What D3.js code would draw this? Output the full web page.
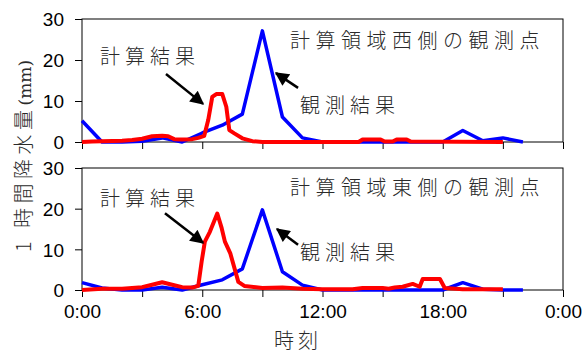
<!DOCTYPE html>
<html>
  <head>
    <meta charset="utf-8">
    <script src="https://cdn.jsdelivr.net/npm/d3@7"></script>
    <style>
      body { margin: 0; background: #fff; }
      .tick text { font-family: "Liberation Sans", Arial, sans-serif; fill: #000; }
      .jp { font-family: "Noto Sans CJK JP", sans-serif; font-weight: 300; fill: #2a2a2a; }
    </style>
  </head>
  <body>
    <svg id="chart" width="588" height="354"></svg>
    <script>
      // hourly observed rainfall (mm/h), 0:00 .. 22:00
      const obsHours = d3.range(0, 23);
      const obsWest = [5.2, 0, 0, 0.2, 1, 0, 2.2, 4.1, 6.8, 27.1, 6.1, 1, 0, 0, 0, 0, 0, 0, 0, 2.8, 0.3, 1, 0];
      const obsEast = [1.8, 0.5, 0, 0, 0.7, 0, 1.3, 2.5, 5.2, 19.7, 4.5, 1.2, 0, 0, 0, 0, 0, 0, 0, 1.8, 0.2, 0, 0];

      // computed rainfall, irregular time steps (hours)
      const calcWestTimes = [0, 0.5, 1, 2, 2.5, 3, 3.5, 4, 4.3, 4.6, 5, 5.5, 5.8, 6.1, 6.3, 6.5, 6.7, 7.0, 7.2, 7.35, 7.6, 8.0, 8.5, 9, 13.8, 14, 14.9, 15.1, 15.5, 15.7, 16.2, 16.4, 21];
      const calcWest = [0, 0.1, 0.2, 0.3, 0.5, 0.8, 1.4, 1.5, 1.4, 0.7, 0.6, 0.7, 1.0, 1.5, 5.4, 11, 11.7, 11.7, 8.6, 2.9, 2.1, 0.9, 0.2, 0, 0, 0.6, 0.6, 0.1, 0.1, 0.6, 0.6, 0.1, 0];
      const calcEastTimes = [0, 1, 2, 2.5, 3, 3.5, 4, 4.5, 5, 5.5, 5.8, 5.97, 6.13, 6.38, 6.75, 6.97, 7.13, 7.4, 7.8, 8.1, 9, 10, 11, 12, 13.5, 14, 15, 15.3, 15.6, 16, 16.5, 16.85, 17.0, 17.86, 18.1, 19, 21];
      const calcEast = [0, 0.3, 0.3, 0.5, 0.7, 1.3, 1.9, 1.3, 0.7, 0.6, 1.0, 7, 11.9, 14.3, 18.8, 15.2, 11.9, 9, 2, 1, 0.5, 0.6, 0.3, 0.2, 0.2, 0.5, 0.5, 0.3, 0.6, 0.8, 1.5, 0.8, 2.7, 2.7, 0.5, 0.2, 0.2];

      const xTickHours = [0, 3, 6, 9, 12, 15, 18, 21, 24];
      const xTickLabels = {0: "0:00", 6: "6:00", 12: "12:00", 18: "18:00", 24: "0:00"};
      const yTicks = [0, 10, 20, 30];

      const panels = [
        {obs: obsWest, calcT: calcWestTimes, calc: calcWest, top: 19, bottom: 142, labels: false,
         title: "計算領域西側の観測点",
         notes: {calc: [0.9, 19], calcArrow: [[4.19, 16.6], [6.04, 9.3]], obs: [10.88, 7.1], obsArrow: [[10.78, 13.2], [9.68, 16.8]], title: [10.38, 22.9]}},
        {obs: obsEast, calcT: calcEastTimes, calc: calcEast, top: 168, bottom: 290, labels: true,
         title: "計算領域東側の観測点",
         notes: {calc: [0.9, 20.7], calcArrow: [[4.14, 18.9], [6.04, 11.6]], obs: [10.88, 7.4], obsArrow: [[10.78, 11.1], [9.73, 15]], title: [10.38, 23.4]}}
      ];

      const svg = d3.select("#chart");
      svg.append("rect").attr("width", 588).attr("height", 354).attr("fill", "#fff");

      svg.append("defs").append("marker")
        .attr("id", "head")
        .attr("viewBox", "0 0 10 10")
        .attr("refX", 9).attr("refY", 5)
        .attr("markerWidth", 6).attr("markerHeight", 5.5)
        .attr("markerUnits", "strokeWidth")
        .attr("orient", "auto")
        .append("path").attr("d", "M0,0 L10,5 L0,10 Z").attr("fill", "#000");

      const x = d3.scaleLinear().domain([0, 24]).range([82, 563]);

      panels.forEach(p => {
        const y = d3.scaleLinear().domain([0, 30]).range([p.bottom, p.top]);
        const g = svg.append("g");

        // frame
        g.append("rect")
          .attr("x", x(0)).attr("y", y(30))
          .attr("width", x(24) - x(0)).attr("height", y(0) - y(30))
          .attr("fill", "none").attr("stroke", "#000").attr("stroke-width", 1);

        g.append("g")
          .attr("transform", `translate(0,${y(0)})`)
          .call(d3.axisBottom(x).tickValues(xTickHours).tickSize(7).tickPadding(8)
            .tickFormat(d => p.labels ? (xTickLabels[d] || "") : ""))
          .call(a => a.select(".domain").remove())
          .call(a => a.selectAll("text").attr("font-size", 19));

        g.append("g")
          .attr("transform", `translate(${x(0)},0)`)
          .call(d3.axisLeft(y).tickValues(yTicks).tickSize(7).tickPadding(11))
          .call(a => a.select(".domain").remove())
          .call(a => a.selectAll("text").attr("font-size", 19).attr("dy", "0.36em"));

        const line = d3.line().x(d => x(d[0])).y(d => y(d[1]));

        g.append("path")
          .datum(obsHours.map((h, i) => [h, p.obs[i]]))
          .attr("d", line)
          .attr("fill", "none").attr("stroke", "#0000ff")
          .attr("stroke-width", 3.5).attr("stroke-linejoin", "round");

        g.append("path")
          .datum(p.calcT.map((t, i) => [t, p.calc[i]]))
          .attr("d", line)
          .attr("fill", "none").attr("stroke", "#ff0000")
          .attr("stroke-width", 4).attr("stroke-linejoin", "round");

        // annotations
        const n = p.notes;
        g.append("text").attr("class", "jp")
          .attr("x", x(n.title[0])).attr("y", y(n.title[1]))
          .attr("font-size", 20).attr("letter-spacing", 5.5)
          .text(p.title);
        g.append("text").attr("class", "jp")
          .attr("x", x(n.calc[0])).attr("y", y(n.calc[1]))
          .attr("font-size", 20).attr("letter-spacing", 5)
          .text("計算結果");
        g.append("text").attr("class", "jp")
          .attr("x", x(n.obs[0])).attr("y", y(n.obs[1]))
          .attr("font-size", 20).attr("letter-spacing", 5)
          .text("観測結果");
        [n.calcArrow, n.obsArrow].forEach(a => {
          g.append("line")
            .attr("x1", x(a[0][0])).attr("y1", y(a[0][1]))
            .attr("x2", x(a[1][0])).attr("y2", y(a[1][1]))
            .attr("stroke", "#000").attr("stroke-width", 2.5)
            .attr("marker-end", "url(#head)");
        });
      });

      // axis titles
      svg.append("text").attr("class", "jp")
        .attr("x", 298).attr("y", 348)
        .attr("text-anchor", "middle")
        .attr("font-size", 20).attr("letter-spacing", 4)
        .text("時刻");

      const yt = svg.append("text").attr("class", "jp")
        .attr("transform", "translate(31,156) rotate(-90)")
        .attr("text-anchor", "middle")
        .attr("font-size", 20);
      yt.append("tspan").attr("letter-spacing", 4.5).text("1 時間降水量");
      yt.append("tspan").attr("font-family", "'DejaVu Serif', serif").attr("font-size", 17).text("(mm)");
    </script>
  </body>
</html>
